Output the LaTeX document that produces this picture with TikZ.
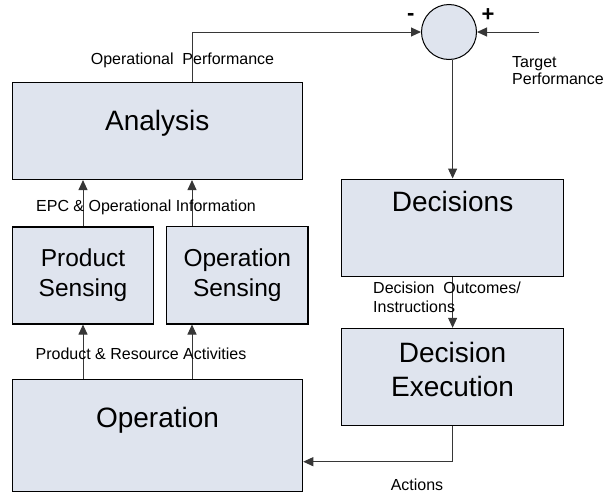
\documentclass[tikz,border=0pt]{standalone}
\usepackage{fontspec}
\setmainfont{Liberation Sans}
\usetikzlibrary{arrows.meta}
\definecolor{boxfill}{RGB}{223,228,238}
\definecolor{linegray}{RGB}{55,55,55}
\begin{document}
\begin{tikzpicture}[x=1pt,y=-1pt,
  box/.style={draw=black, line width=1.1pt, fill=boxfill, rectangle, inner sep=0pt},
  big/.style={font=\fontsize{28}{34}\selectfont, align=center, inner sep=0pt},
  mid/.style={font=\fontsize{24.5}{30}\selectfont, align=center, inner sep=0pt},
  lbl/.style={font=\fontsize{16}{19}\selectfont, inner sep=0pt},
  sign/.style={font=\bfseries\fontsize{22}{26}\selectfont, inner sep=0pt},
  arr/.style={draw=linegray, line width=1pt, -{Triangle[length=10pt,width=9pt]}}]
\useasboundingbox (0,0) rectangle (603,493);

% boxes
\node[box, minimum width=290pt, minimum height=97pt,
      label={[big,yshift=8pt]center:Analysis}] (ana) at (157.3,131) {};
\node[box, minimum width=141pt, minimum height=97pt,
      label={[mid]center:{Product\\Sensing}}] (ps) at (83,275.5) {};
\node[box, minimum width=141.3pt, minimum height=97.3pt,
      label={[mid]center:{Operation\\Sensing}}] (os) at (237.3,275.3) {};
\node[box, minimum width=290.4pt, minimum height=112.4pt,
      label={[big,yshift=15.5pt]center:Operation}] (op) at (157.5,435.5) {};
\node[box, minimum width=221.8pt, minimum height=97.7pt,
      label={[big,yshift=26pt]center:Decisions}] (dec) at (452.6,227.9) {};
\node[box, minimum width=221.8pt, minimum height=96.7pt,
      label={[big,yshift=7pt]center:{Decision\\Execution}}] (dex) at (452.6,376.7) {};
\node[circle, draw=black, line width=1pt, fill=boxfill, minimum size=55pt, inner sep=0pt] (circ) at (449,32) {};

% helper coordinates
\coordinate (osx) at ([xshift=-45.3pt]os.north);
\coordinate (tgt) at (539,32);
\coordinate (actin) at ([yshift=-26.2pt]op.east);

% connectors
\draw[arr] (osx |- ana.north) |- (circ.west);
\draw[arr] (tgt) -- (circ.east);
\draw[arr] (circ.south -| dec.north) -- (dec.north);
\draw[arr] (dec.south) -- (dex.north);
\draw[arr] (dex.south) |- (actin);
\draw[arr] (ps.south |- op.north) -- (ps.south);
\draw[arr] (osx |- op.north) -- (osx |- os.south);
\draw[arr] (ps.north) -- (ps.north |- ana.south);
\draw[arr] (osx) -- (osx |- ana.south);

% labels
\node[lbl] (opperf) at (182.5,60) {Operational\ \ Performance};
\node[lbl] (epc) at (146,207) {EPC \& Operational Information};
\node[lbl] (pra) at (141,354) {Product \& Resource Activities};
\node[lbl, anchor=west, align=left] (dout) at (373,297.5) {Decision\ \ Outcomes/\\Instructions};
\node[lbl] (act) at (417,485) {Actions};
\node[lbl, anchor=west, align=left, font=\fontsize{16}{17.5}\selectfont] (tp) at (512,70.5) {Target\\Performance};
\node[sign] (minus) at (410.7,17) {-};
\node[sign] (plus) at (488,15) {+};
\end{tikzpicture}
\end{document}
